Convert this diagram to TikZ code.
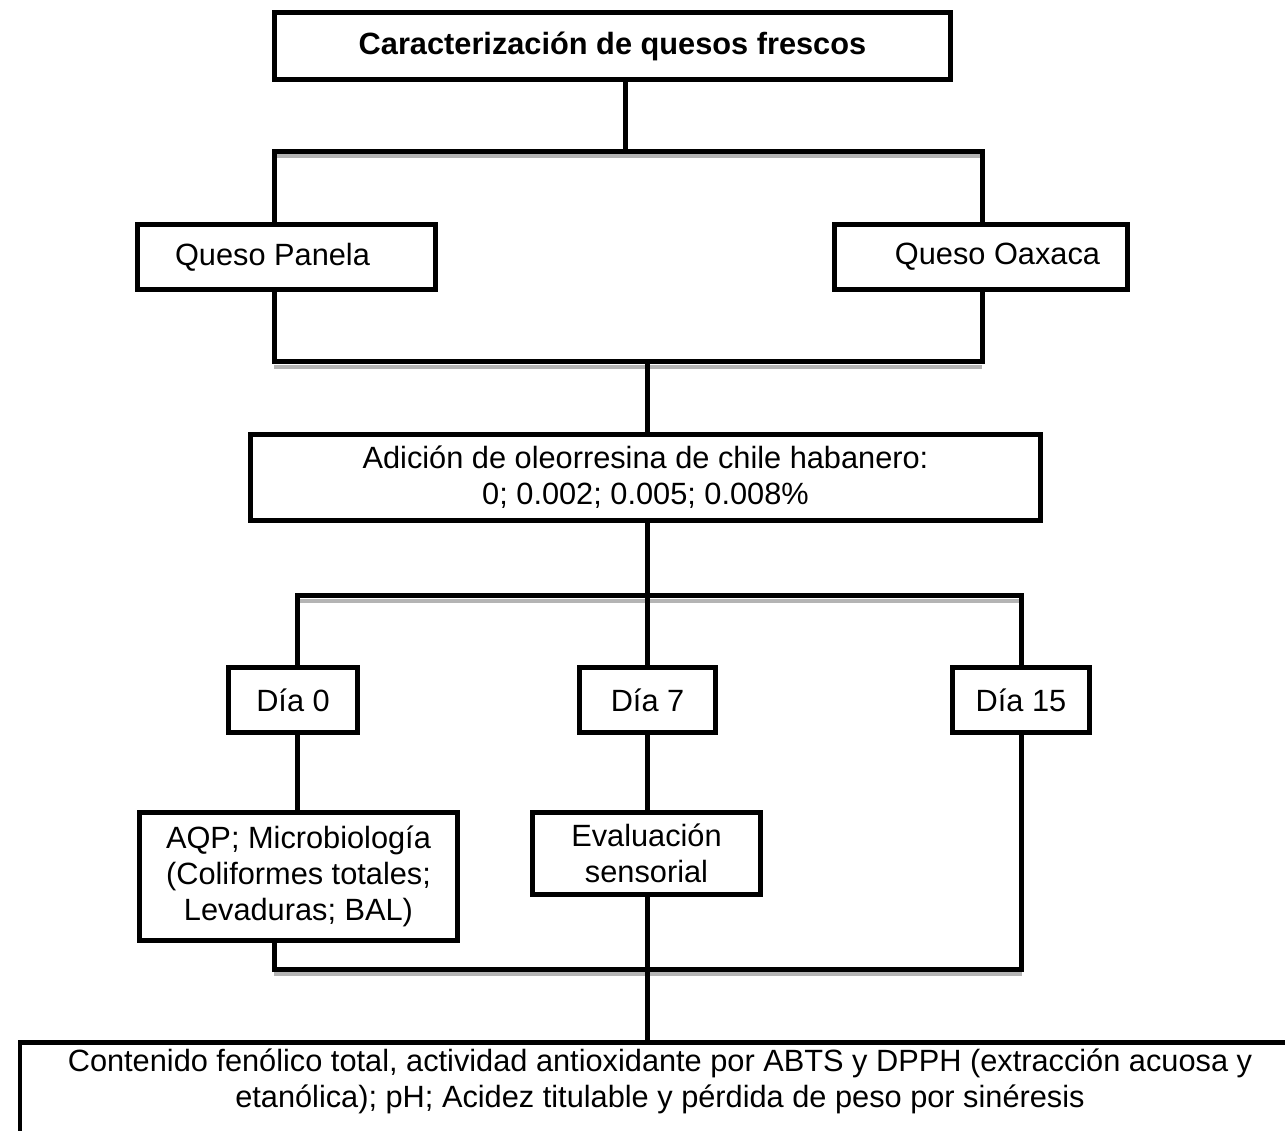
\documentclass[tikz,border=0pt]{standalone}
\usepackage{fontspec}
\setmainfont{Liberation Sans}
\usepackage{xcolor}
\usetikzlibrary{positioning}
\definecolor{ShadeGray}{HTML}{B4B4B4}

\begin{document}
\begin{tikzpicture}[x=0.02cm, y=-0.02cm,
    box/.style={rectangle, draw=black, line width=0.1cm, fill=white,
                inner sep=0pt, align=center,
                font=\fontsize{17.5}{20.6}\selectfont},
    every label/.style={font=\fontsize{17.5}{20.6}\selectfont, inner sep=0pt},
    wire/.style={line width=0.1cm, line join=miter},
    shadeline/.style={line width=0.08cm, ShadeGray}]
    \useasboundingbox (0,0) rectangle (1285,1131);
    \clip (0,0) rectangle (1285,1131);

    % Boxes
    \node[box, minimum width=13.52cm, minimum height=1.34cm] (title) at (612.5,46)
        {\bfseries Caracterización de quesos frescos};
    \node[box, minimum width=5.96cm, minimum height=1.3cm,
          label={[xshift=-0.28cm]center:Queso Panela}] (pan) at (286.5,257) {};
    \node[box, minimum width=5.86cm, minimum height=1.3cm,
          label={[xshift=0.33cm]center:Queso Oaxaca}] (oax) at (981,257) {};
    \node[box, minimum width=15.8cm, minimum height=1.72cm] (adic) at (645.5,477.5)
        {Adición de oleorresina de chile habanero:\\0; 0.002; 0.005; 0.008\%};
    \node[box, minimum width=2.58cm, minimum height=1.3cm] (d0) at (293,700) {Día 0};
    \node[box, minimum width=2.72cm, minimum height=1.3cm] (d7) at (647.5,700) {Día 7};
    \node[box, minimum width=2.74cm, minimum height=1.3cm] (d15) at (1021,700) {Día 15};
    \node[box, minimum width=6.36cm, minimum height=2.56cm] (aqp) at (298.5,876.5)
        {AQP; Microbiología\\(Coliformes totales;\\Levaduras; BAL)};
    \node[box, minimum width=4.56cm, minimum height=1.64cm] (sens) at (646.5,853.5)
        {Evaluación\\sensorial};
    \node[box, minimum width=26cm, minimum height=1.86cm, anchor=north west] (final) at (17.5,1039.5) {};
    \node[font=\fontsize{17.5}{20.6}\selectfont, align=center] (finaltxt) at (660,1081)
        {Contenido fenólico total, actividad antioxidante por ABTS y DPPH (extracción acuosa y\\
         etanólica); pH; Acidez titulable y pérdida de peso por sinéresis};

    % Junctions
    \coordinate (j1) at (625,151.5);
    \coordinate (b1l) at (274,151.5);
    \coordinate (b1r) at (982,151.5);
    \coordinate (b2l) at (274,362);
    \coordinate (b2r) at (982,362);
    \coordinate (j2) at (647.5,362);
    \coordinate (b3l) at (297,596);
    \coordinate (b3m) at (647.5,596);
    \coordinate (b3r) at (1021.5,596);
    \coordinate (b4l) at (274,969);
    \coordinate (b4r) at (1021.5,969);
    \coordinate (j4) at (647.5,969);

    % Shadows under the bars
    \draw[shadeline] ([yshift=-0.1cm]b1l) -- ([yshift=-0.1cm]b1r);
    \draw[shadeline] ([yshift=-0.1cm]b2l) -- ([yshift=-0.1cm]b2r);
    \draw[shadeline] ([yshift=-0.1cm]b3l) -- ([yshift=-0.1cm]b3r);
    \draw[shadeline] ([yshift=-0.1cm]b4l) -- ([yshift=-0.1cm]b4r);

    % Connectors
    \draw[wire] (title.south -| j1) -- (j1);
    \draw[wire] (pan.north -| b1l) |- (b1r) -- (oax.north -| b1r);
    \draw[wire] (pan.south -| b2l) |- (b2r) -- (oax.south -| b2r);
    \draw[wire] (j2) -- (adic.north -| j2);
    \draw[wire] (adic.south -| b3m) -- (b3m);
    \draw[wire] (d0.north -| b3l) |- (b3r) -- (d15.north -| b3r);
    \draw[wire] (b3m) -- (d7.north -| b3m);
    \draw[wire] (d0.south -| b3l) -- (aqp.north -| b3l);
    \draw[wire] (d7.south -| b3m) -- (sens.north -| b3m);
    \draw[wire] (aqp.south -| b4l) |- (b4r) -- (d15.south -| b4r);
    \draw[wire] (sens.south -| j4) -- (final.north -| j4);
\end{tikzpicture}
\end{document}
